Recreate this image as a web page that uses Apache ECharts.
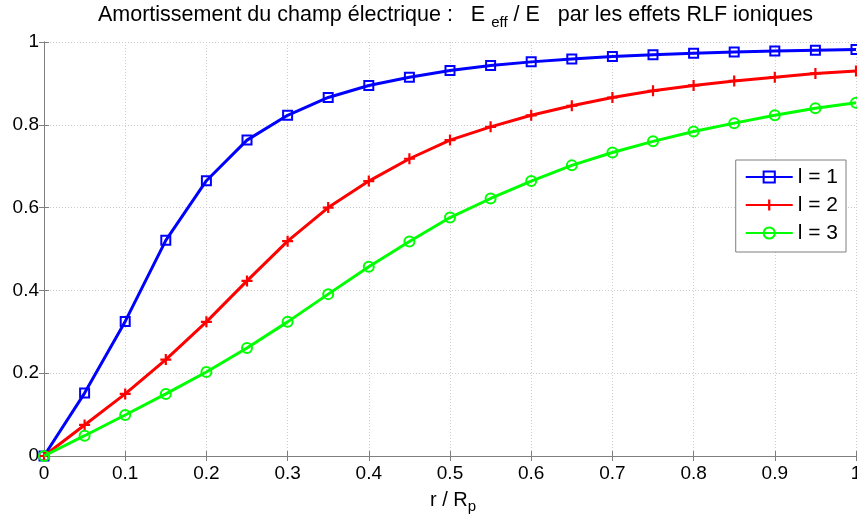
<!DOCTYPE html>
<html>
<head>
<meta charset="utf-8">
<script src="https://cdn.jsdelivr.net/npm/echarts@6/dist/echarts.min.js"></script>
<style>html,body{margin:0;padding:0;background:#fff;}#c{width:857px;height:521px;}</style>
</head>
<body>
<div id="c"></div>
<script>
const xValues = [0,0.05,0.1,0.15,0.2,0.25,0.3,0.35,0.4,0.45,0.5,0.55,0.6,0.65,0.7,0.75,0.8,0.85,0.9,0.95,1];
const seriesL1 = [0,0.152,0.325,0.521,0.665,0.763,0.823,0.866,0.895,0.915,0.931,0.943,0.952,0.959,0.965,0.969,0.973,0.976,0.978,0.980,0.982];
const seriesL2 = [0,0.075,0.150,0.233,0.324,0.423,0.519,0.600,0.664,0.718,0.763,0.795,0.823,0.846,0.866,0.882,0.895,0.906,0.915,0.924,0.930];
const seriesL3 = [0,0.049,0.099,0.150,0.203,0.261,0.324,0.391,0.457,0.518,0.576,0.622,0.664,0.702,0.733,0.760,0.784,0.804,0.823,0.840,0.853];
const seriesNames = ['l = 1','l = 2','l = 3'];

const FONT = 'Liberation Sans, Arial, sans-serif';
const axisColor = '#7f7f7f';
const gridLine = {show:true, lineStyle:{color:'#cdcdcd', type:[1,2], width:1}};

function pairs(ys){ return xValues.map((x,i)=>[x, ys[i]]); }

const plus = 'path://M4,0H6V4H10V6H6V10H4V6H0V4H4Z';

const chart = echarts.init(document.getElementById('c'), null, {renderer:'canvas'});
chart.setOption({
  animation:false,
  backgroundColor:'#fff',
  textStyle:{fontFamily:FONT},
  title:{
    text:'Amortissement du champ électrique :   E {sub|eff} / E   par les effets RLF ioniques',
    left:98, top:1, padding:[2,0,0,0],
    textStyle:{
      fontFamily:FONT, fontSize:21.5, fontWeight:'normal', color:'#000', lineHeight:24,
      rich:{sub:{fontFamily:FONT, fontSize:15, color:'#000', lineHeight:24, padding:[15,0,0,0]}}
    }
  },
  grid:{left:44, right:1, top:42, bottom:65, containLabel:false, outerBoundsMode:'none'},
  legend:{
    orient:'vertical', right:11, top:160,
    backgroundColor:'#fff', borderColor:'#7f7f7f', borderWidth:1,
    padding:[6,8,8,9],
    itemWidth:47, itemHeight:14, itemGap:6,
    textStyle:{fontFamily:FONT, fontSize:21, color:'#000', lineHeight:22},
    data:seriesNames
  },
  xAxis:[{
    type:'value', min:0, max:1, interval:0.1,
    axisLine:{show:true, lineStyle:{color:axisColor}},
    axisTick:{show:true, inside:true, length:5, lineStyle:{color:axisColor}},
    axisLabel:{fontFamily:FONT, fontSize:19, color:'#000', margin:8, showMaxLabel:true, showMinLabel:true, hideOverlap:false},
    splitLine:gridLine,
    name:'r / R{sub|p}', nameLocation:'middle', nameGap:31,
    nameTextStyle:{fontFamily:FONT, fontSize:20, color:'#000', padding:[0,0,0,6],
      rich:{sub:{fontFamily:FONT, fontSize:15, color:'#000', padding:[12,0,0,0]}}}
  },{
    type:'value', min:0, max:1, interval:0.1, position:'top',
    axisLine:{show:true, lineStyle:{color:axisColor}},
    axisTick:{show:true, inside:true, length:5, lineStyle:{color:axisColor}},
    axisLabel:{show:false}, splitLine:{show:false}
  }],
  yAxis:[{
    type:'value', min:0, max:1, interval:0.2,
    axisLine:{show:true, lineStyle:{color:axisColor}},
    axisTick:{show:true, inside:true, length:5, lineStyle:{color:axisColor}},
    axisLabel:{fontFamily:FONT, fontSize:19, color:'#000', margin:5, showMaxLabel:true, showMinLabel:true},
    splitLine:gridLine
  },{
    type:'value', min:0, max:1, interval:0.2, position:'right',
    axisLine:{show:true, lineStyle:{color:axisColor}},
    axisTick:{show:true, inside:true, length:5, lineStyle:{color:axisColor}},
    axisLabel:{show:false}, splitLine:{show:false}
  }],
  series:[
    {name:seriesNames[0], type:'line', data:pairs(seriesL1), symbol:'rect', symbolSize:9,
     showAllSymbol:true,
     lineStyle:{color:'#0000ff', width:3}, itemStyle:{color:'rgba(255,255,255,0)', borderColor:'#0000ff', borderWidth:2}, z:3},
    {name:seriesNames[1], type:'line', data:pairs(seriesL2), symbol:plus, symbolSize:11,
     showAllSymbol:true,
     lineStyle:{color:'#ff0000', width:3}, itemStyle:{color:'#ff0000', borderColor:'#ff0000', borderWidth:0}, z:4},
    {name:seriesNames[2], type:'line', data:pairs(seriesL3), symbol:'circle', symbolSize:10,
     showAllSymbol:true,
     lineStyle:{color:'#00ff00', width:3}, itemStyle:{color:'rgba(255,255,255,0)', borderColor:'#00ff00', borderWidth:2}, z:5}
  ]
});
</script>
</body>
</html>
